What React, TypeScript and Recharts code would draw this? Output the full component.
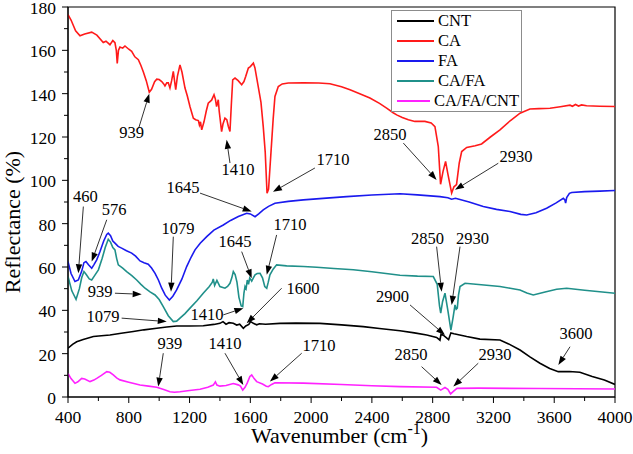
import {
  LineChart,
  Line,
  XAxis,
  YAxis,
  ReferenceArea,
  ReferenceLine,
  ReferenceDot,
  Legend,
} from "recharts";

const FONT = "Liberation Serif";

// [wavenumber, reflectance]
const CNT = [
  [400, 22.5], [430, 24.3], [457, 25.5], [500, 26.5], [567, 27.9], [620, 28.3],
  [676, 28.6], [750, 29.4], [830, 30.2], [900, 31], [984, 31.7], [1050, 32.3],
  [1115, 32.8], [1200, 32.8], [1290, 32.9], [1360, 33.5], [1400, 34], [1420, 34.8],
  [1440, 33.6], [1460, 34.3], [1488, 34], [1510, 33.2], [1530, 33.6], [1554, 31.7],
  [1570, 32.8], [1590, 33.5], [1602, 34.8], [1620, 34], [1642, 33.3], [1660, 33.8],
  [1700, 33.6], [1795, 34], [1900, 34.1], [2058, 34], [2200, 33.3], [2343, 32.5],
  [2450, 31.6], [2585, 30.6], [2680, 29.6], [2761, 28.6], [2826, 27.5], [2848, 26.2],
  [2855, 29], [2870, 28.5], [2905, 26.5], [2920, 29.6], [2940, 29.2], [3024, 27.9],
  [3111, 26.7], [3243, 26.3], [3300, 24.5], [3375, 21.7], [3440, 18.5], [3506, 15.6],
  [3570, 13.2], [3627, 11.7], [3700, 11.8], [3769, 11.4], [3850, 9.5], [3930, 7.8],
  [4000, 5.8],
];

const CA = [
  [400, 176.5], [420, 174], [450, 169], [479, 166.7], [510, 167.5], [556, 168.4],
  [590, 167], [632, 163.6], [650, 164.2], [676, 162.6], [695, 164.5], [709, 163.5],
  [718, 160], [724, 154], [732, 160], [742, 161.5], [760, 161], [775, 162],
  [800, 160.5], [819, 159.5], [840, 157], [863, 155.7], [880, 153], [896, 150],
  [915, 146], [935, 140.7], [950, 142], [970, 145.5], [984, 146.7], [1000, 146.5],
  [1017, 145.6], [1030, 144.5], [1038, 143.6], [1050, 145], [1060, 145], [1071, 142.6],
  [1082, 146], [1093, 150.3], [1101, 146], [1109, 141.8], [1120, 148], [1137, 153.3],
  [1150, 150], [1170, 142.6], [1185, 139], [1203, 134], [1225, 128.7], [1240, 128],
  [1258, 127.6], [1265, 125.5], [1272, 127], [1280, 123.3], [1295, 127], [1310, 132],
  [1323, 135.6], [1345, 137], [1361, 139.5], [1370, 137.5], [1378, 134], [1389, 137.2],
  [1395, 132], [1411, 122.5], [1420, 126], [1433, 128.7], [1445, 128], [1455, 125],
  [1466, 122.5], [1475, 135], [1484, 146.4], [1499, 147.2], [1520, 146], [1543, 144.1],
  [1558, 145.6], [1570, 148], [1587, 151.8], [1600, 152.5], [1620, 154.1], [1630, 152],
  [1652, 143.3], [1670, 136], [1685, 124.8], [1698, 113], [1710, 94], [1720, 96],
  [1735, 112], [1750, 128], [1762, 138.7], [1784, 143.3], [1810, 144.5], [1850, 144.9],
  [1950, 145], [2050, 144.9], [2124, 144.6], [2200, 143.2], [2256, 141.8], [2320, 140],
  [2387, 138], [2450, 135.5], [2497, 133.3], [2540, 131.2], [2563, 130.2], [2600, 129],
  [2640, 128], [2683, 127.2], [2749, 127.2], [2790, 126.5], [2815, 124.8], [2837, 115.6],
  [2852, 98.2], [2868, 104], [2885, 108.7], [2900, 103], [2925, 94.1], [2940, 97],
  [2957, 98], [2975, 108], [2991, 113.3], [3024, 115.2], [3080, 116], [3122, 116.8],
  [3180, 120], [3243, 123.3], [3310, 127.5], [3375, 131], [3440, 132.9], [3500, 133.1],
  [3572, 133.3], [3640, 134], [3704, 134.7], [3720, 134.2], [3740, 135], [3760, 134.3],
  [3780, 134.8], [3813, 134.4], [3900, 134.2], [4000, 134.1],
];

const FA = [
  [400, 62.5], [420, 57], [446, 53.3], [468, 54], [490, 58], [505, 62], [518, 62.5],
  [535, 61], [556, 59.4], [570, 61], [589, 63.3], [610, 67], [635, 72], [655, 75],
  [665, 75.6], [680, 74.5], [695, 72], [709, 71], [730, 69.5], [753, 68.7], [785, 67.5],
  [819, 66.4], [845, 65], [874, 62.8], [900, 62], [928, 61.3], [950, 59.5], [973, 57.1],
  [995, 54], [1017, 50.2], [1040, 47], [1067, 44.8], [1090, 46.5], [1115, 49.4],
  [1150, 54.5], [1181, 60.2], [1210, 64.5], [1236, 67.9], [1270, 71], [1313, 74],
  [1360, 77], [1422, 79.4], [1470, 81.5], [1521, 83.3], [1576, 84.8], [1600, 84.5],
  [1631, 83.2], [1655, 84.5], [1685, 86.4], [1720, 88], [1762, 89.4], [1850, 90.3],
  [1949, 91], [2100, 91.8], [2234, 92.5], [2400, 93.2], [2585, 93.8], [2700, 93.3],
  [2848, 92.5], [2900, 92], [2925, 91.3], [2950, 91.7], [3040, 90], [3133, 87.9],
  [3220, 86.6], [3309, 85.6], [3380, 84.3], [3419, 84], [3480, 85], [3550, 87.1],
  [3610, 89.5], [3660, 91.7], [3670, 91], [3675, 89.5], [3682, 92], [3700, 94],
  [3715, 94.4], [3800, 94.8], [3900, 95], [4000, 95.3],
];

const CA_FA = [
  [400, 55.6], [425, 49], [453, 45.1], [475, 50], [490, 55], [505, 57.9], [520, 56.5],
  [540, 54.5], [556, 54], [575, 56], [600, 58.7], [625, 64], [645, 69], [665, 72.8],
  [680, 71.5], [695, 69], [709, 67.9], [720, 64], [731, 61], [760, 59.5], [786, 57.9],
  [820, 56], [852, 54], [880, 52], [907, 50.2], [940, 48.5], [973, 47.1], [1000, 45],
  [1027, 41.7], [1060, 37.5], [1093, 34.8], [1115, 35], [1137, 36.4], [1170, 38.5],
  [1203, 41], [1250, 44.5], [1290, 47.9], [1330, 51], [1350, 53], [1356, 54.5],
  [1365, 51.5], [1380, 53.8], [1400, 51], [1433, 50.2], [1450, 51], [1466, 52.5],
  [1478, 55], [1488, 57.9], [1500, 56.5], [1512, 53], [1525, 46], [1540, 42],
  [1550, 41.7], [1558, 48], [1565, 51], [1572, 50], [1580, 54], [1588, 52], [1596, 55],
  [1609, 53.5], [1620, 55], [1631, 56.4], [1645, 57], [1664, 57.1], [1680, 55],
  [1695, 51], [1708, 50.2], [1718, 53], [1729, 56.4], [1750, 59], [1773, 61],
  [1839, 60.5], [1950, 60.2], [2037, 59.9], [2150, 59.3], [2278, 58.7], [2400, 57.8],
  [2585, 56.2], [2700, 55.8], [2804, 55.6], [2830, 52], [2845, 42], [2853, 38.7],
  [2865, 44], [2881, 47.9], [2900, 40], [2920, 30.9], [2935, 37], [2947, 42.5],
  [2955, 40.5], [2962, 41], [2970, 47], [2980, 51], [3013, 52.5], [3120, 51.8],
  [3243, 51], [3310, 50.2], [3375, 49.4], [3420, 48], [3462, 47.1], [3540, 48.5],
  [3616, 49.7], [3682, 50.2], [3800, 49.3], [3900, 48.6], [4000, 47.9],
];

const CA_FA_CNT = [
  [400, 10.9], [420, 8.5], [446, 6.3], [465, 7], [490, 8.6], [510, 8.3], [545, 7.1],
  [570, 7.8], [589, 8.6], [620, 10], [655, 11.7], [675, 11.4], [698, 10.2], [720, 8.8],
  [742, 7.9], [800, 6.8], [874, 5.5], [930, 5], [984, 4.5], [1030, 3.5], [1071, 2.4],
  [1100, 2.2], [1137, 2.4], [1200, 3], [1269, 3.6], [1320, 4.5], [1356, 5.5],
  [1370, 7], [1380, 5.5], [1400, 5], [1440, 5.3], [1488, 6.2], [1520, 5.6], [1535, 5],
  [1550, 3.2], [1565, 4.5], [1580, 6.5], [1597, 9.5], [1609, 10.2], [1625, 8.5],
  [1642, 7.1], [1680, 6], [1705, 5], [1718, 4.8], [1740, 5.8], [1762, 6.6], [1949, 6.4],
  [2200, 5.8], [2400, 5.2], [2585, 4.8], [2826, 4.5], [2853, 3.2], [2881, 4.4],
  [2900, 3.5], [2918, 1.4], [2940, 2.8], [2960, 4], [3100, 4.1], [3500, 3.9], [4000, 3.7],
];

const seriesNames = ["CNT", "CA", "FA", "CA/FA", "CA/FA/CNT"];
const seriesColors = ["#000000", "#ff1a1a", "#1a1aee", "#20908a", "#ff22ff"];
const seriesData = [CNT, CA, FA, CA_FA, CA_FA_CNT];

const xTicks = [
  400, 600, 800, 1000, 1200, 1400, 1600, 1800, 2000, 2200, 2400, 2600, 2800, 3000,
  3200, 3400, 3600, 3800, 4000,
];
const yTicks = [0, 10, 20, 30, 40, 50, 60, 70, 80, 90, 100, 110, 120, 130, 140, 150, 160, 170, 180];

// label, text centre (x, y), arrow from (x, y), arrow tip (x, y)
const annotations: [string, number, number, number, number, number, number][] = [
  ["939", 819, 122, 865, 124, 935, 140],
  ["1410", 1519, 105, 1466, 108, 1444, 118.7],
  ["1710", 2144, 109.5, 2025, 105.7, 1749, 94.7],
  ["2850", 2519, 121.2, 2607, 117.2, 2826, 100.2],
  ["2930", 3348, 111, 3232, 107.9, 2947, 95.6],
  ["1645", 1157, 96.5, 1269, 94.1, 1609, 85.6],
  ["460", 515, 92.5, 501, 87.9, 468, 57.1],
  ["576", 703, 86.4, 655, 81.8, 556, 62.5],
  ["1079", 1124, 77.9, 1093, 74, 1078, 48.6],
  ["1645", 1499, 71.7, 1543, 67.1, 1609, 54.8],
  ["1710", 1861, 79.4, 1773, 74.8, 1708, 56.4],
  ["939", 611, 48.6, 709, 47.9, 885, 47.4],
  ["1079", 630, 37.1, 753, 36.4, 1050, 34.8],
  ["1410", 1315, 37.9, 1422, 37.9, 1554, 41],
  ["1600", 1947, 50.2, 1806, 50.2, 1576, 34],
  ["2900", 2535, 46.3, 2651, 42.5, 2881, 28.6],
  ["2850", 2766, 73.3, 2826, 69.4, 2859, 48.6],
  ["2930", 3062, 73.3, 2980, 69.4, 2925, 42.5],
  ["3600", 3743, 29.4, 3704, 23.2, 3627, 14.8],
  ["939", 1071, 24.5, 1027, 20.2, 994, 4.8],
  ["1410", 1433, 24.5, 1433, 20.2, 1554, 5.5],
  ["1710", 2052, 24, 1938, 20.2, 1729, 7.1],
  ["2850", 2657, 19.4, 2727, 14, 2859, 5.5],
  ["2930", 3210, 19.4, 3100, 15.6, 2936, 4.8],
];

const toPoints = (pairs: number[][]) => pairs.map(([x, y]) => ({ x, y }));

const XTick = ({ x, y, payload }: any) => {
  const major = payload.value % 400 === 0;
  return (
    <g>
      <line x1={x} y1={y} x2={x} y2={y + (major ? 6 : 4)} stroke="#000" />
      {major && (
        <text x={x} y={y + 20} textAnchor="middle" dominantBaseline="central"
          fontFamily={FONT} fontSize={17.5} fill="#000">
          {payload.value}
        </text>
      )}
    </g>
  );
};

const YTick = ({ x, y, payload }: any) => {
  const major = payload.value % 20 === 0;
  return (
    <g>
      <line x1={x} y1={y} x2={x - (major ? 6 : 4)} y2={y} stroke="#000" />
      {major && (
        <text x={x - 12} y={y + 1} textAnchor="end" dominantBaseline="central"
          fontFamily={FONT} fontSize={17.5} fill="#000">
          {payload.value}
        </text>
      )}
    </g>
  );
};

const Arrow = (props: any) => {
  const { x1, y1, x2, y2 } = props;
  const dx = x2 - x1;
  const dy = y2 - y1;
  const len = Math.sqrt(dx * dx + dy * dy) || 1;
  const ux = dx / len;
  const uy = dy / len;
  const head = 9;
  const half = 3.2;
  const bx = x2 - ux * head;
  const by = y2 - uy * head;
  return (
    <g>
      <line x1={x1} y1={y1} x2={bx} y2={by} stroke="#333" strokeWidth={1} />
      <polygon
        points={`${x2},${y2} ${bx - uy * half},${by + ux * half} ${bx + uy * half},${by - ux * half}`}
        fill="#000"
      />
    </g>
  );
};

const LegendBox = () => (
  <div
    style={{
      border: "1px solid #8c8c8c",
      background: "#fff",
      fontFamily: FONT,
      fontSize: 16.5,
      color: "#000",
      padding: "0 2px 0 5px",
    }}
  >
    {seriesNames.map((name, i) => (
      <div key={name} style={{ display: "flex", alignItems: "center", height: 20 }}>
        <span
          style={{
            display: "inline-block",
            width: 37,
            borderTop: `2px solid ${seriesColors[i]}`,
            marginRight: 4,
          }}
        />
        {name}
      </div>
    ))}
  </div>
);

export default function App() {
  return (
    <div style={{ position: "absolute", left: 0, top: 0 }}>
      <LineChart
        width={633}
        height={454}
        margin={{ top: 7, right: 18, left: 8, bottom: 0 }}
      >
        <XAxis
          dataKey="x"
          type="number"
          domain={[400, 4000]}
          ticks={xTicks}
          interval={0}
          height={57}
          tickSize={0}
          tickMargin={0}
          tickLine={false}
          tick={<XTick />}
          stroke="#000"
          allowDataOverflow
          label={{
            content: ({ viewBox }: any) => (
              <text x={viewBox.x + viewBox.width / 2 - 2} y={viewBox.y + 46}
                textAnchor="middle" fontFamily={FONT} fontSize={22} fill="#000">
                Wavenumber (cm
                <tspan dy={-9} fontSize={16}>-1</tspan>
                <tspan dy={9}>)</tspan>
              </text>
            ),
          }}
        />
        <YAxis
          dataKey="y"
          type="number"
          domain={[0, 180]}
          ticks={yTicks}
          interval={0}
          width={60}
          tickSize={0}
          tickMargin={0}
          tickLine={false}
          tick={<YTick />}
          stroke="#000"
          allowDataOverflow
          label={{
            content: ({ viewBox }: any) => (
              <text x={12} y={viewBox.y + viewBox.height / 2 + 20}
                transform={`rotate(-90, 12, ${viewBox.y + viewBox.height / 2 + 20})`}
                textAnchor="middle" dominantBaseline="central"
                fontFamily={FONT} fontSize={22} fill="#000">
                Reflectance (%)
              </text>
            ),
          }}
        />
        <ReferenceArea x1={400} x2={4000} y1={0} y2={180} fill="none" stroke="#000" strokeWidth={1.2} />
        {seriesData.map((d, i) => (
          <Line
            key={seriesNames[i]}
            data={toPoints(d)}
            dataKey="y"
            name={seriesNames[i]}
            type="linear"
            stroke={seriesColors[i]}
            strokeWidth={1.6}
            dot={false}
            isAnimationActive={false}
          />
        ))}
        {annotations.map(([label, tx, ty, fx, fy, ax, ay], i) => (
          <ReferenceLine
            key={`a${i}`}
            segment={[{ x: fx, y: fy }, { x: ax, y: ay }]}
            ifOverflow="visible"
            shape={Arrow}
          />
        ))}
        {annotations.map(([label, tx, ty], i) => (
          <ReferenceDot
            key={`t${i}`}
            x={tx}
            y={ty}
            r={0}
            ifOverflow="visible"
            shape={(p: any) => (
              <text x={p.cx} y={p.cy} textAnchor="middle" dominantBaseline="central"
                fontFamily={FONT} fontSize={16.5} fill="#000">
                {label}
              </text>
            )}
          />
        ))}
        <Legend
          layout="vertical"
          align="center"
          verticalAlign="middle"
          content={<LegendBox />}
          wrapperStyle={{ left: 391, top: 10, width: 131, height: "auto" }}
        />
      </LineChart>
    </div>
  );
}
